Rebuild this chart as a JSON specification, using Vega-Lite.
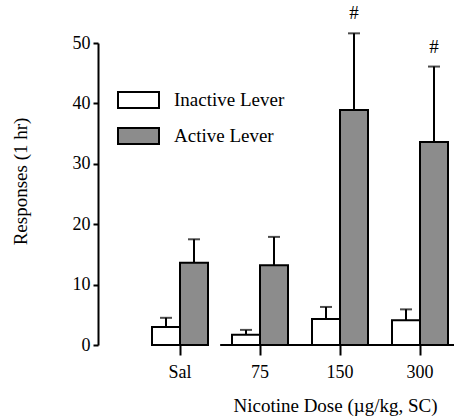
{
  "$schema": "https://vega.github.io/schema/vega-lite/v6.json",
  "autosize": "none",
  "width": 300,
  "height": 302,
  "padding": {"left": 150, "top": 43, "right": 6, "bottom": 73},
  "background": "white",
  "config": {
    "view": {"stroke": null},
    "font": "Liberation Serif",
    "axis": {"labelFont": "Liberation Serif", "titleFont": "Liberation Serif", "labelColor": "black", "titleColor": "black", "titleFontWeight": "normal", "domainColor": "black", "tickColor": "black"},
    "legend": {"labelFont": "Liberation Serif"}
  },
  "data": {
    "values": [
      {"dose": "Sal", "lever": "Inactive Lever", "mean": 3.0, "upper": 4.5, "sig": ""},
      {"dose": "Sal", "lever": "Active Lever", "mean": 13.6, "upper": 17.5, "sig": ""},
      {"dose": "75", "lever": "Inactive Lever", "mean": 1.7, "upper": 2.5, "sig": ""},
      {"dose": "75", "lever": "Active Lever", "mean": 13.2, "upper": 17.9, "sig": ""},
      {"dose": "150", "lever": "Inactive Lever", "mean": 4.3, "upper": 6.3, "sig": ""},
      {"dose": "150", "lever": "Active Lever", "mean": 38.9, "upper": 51.6, "sig": "#"},
      {"dose": "300", "lever": "Inactive Lever", "mean": 4.1, "upper": 5.9, "sig": ""},
      {"dose": "300", "lever": "Active Lever", "mean": 33.6, "upper": 46.1, "sig": "#"}
    ]
  },
  "encoding": {
    "x": {
      "field": "dose", "type": "nominal", "sort": ["Sal", "75", "150", "300"],
      "scale": {"paddingInner": 0.3, "paddingOuter": 0.025},
      "axis": {"title": "Nicotine Dose (µg/kg, SC)", "labelAngle": 0, "domain": false, "ticks": true, "tickSize": 10, "tickWidth": 2, "tickBand": "center", "labelFontSize": 18, "titleFontSize": 19, "labelPadding": 8, "titlePadding": 15, "titleX": 185}
    },
    "xOffset": {"field": "lever", "type": "nominal", "sort": ["Inactive Lever", "Active Lever"], "scale": {"paddingInner": 0, "paddingOuter": 0}},
    "y": {
      "field": "mean", "type": "quantitative",
      "scale": {"domain": [0, 50], "nice": false},
      "axis": {"title": "Responses (1 hr)", "values": [0, 10, 20, 30, 40, 50], "grid": false, "offset": 52, "domainWidth": 2, "tickWidth": 2, "tickSize": 5, "labelFontSize": 18, "titleFontSize": 19, "labelPadding": 3, "titlePadding": 42, "titleY": 138}
    }
  },
  "layer": [
    {
      "mark": {"type": "rule", "color": "black", "strokeWidth": 2},
      "encoding": {
        "x": {"datum": "75", "bandPosition": -0.2},
        "x2": {"datum": "300", "bandPosition": 1.1},
        "y": {"datum": 0},
        "xOffset": null
      }
    },
    {
      "mark": {"type": "rule", "color": "black", "strokeWidth": 2},
      "encoding": {"y": {"field": "mean", "type": "quantitative"}, "y2": {"field": "upper"}}
    },
    {
      "mark": {"type": "tick", "color": "black", "thickness": 2, "size": 12, "orient": "horizontal"},
      "encoding": {"y": {"field": "upper", "type": "quantitative"}}
    },
    {
      "mark": {"type": "bar", "stroke": "black", "strokeWidth": 2},
      "encoding": {
        "fill": {
          "field": "lever", "type": "nominal",
          "scale": {"domain": ["Inactive Lever", "Active Lever"], "range": ["white", "#8c8c8c"]},
          "legend": {"title": null, "orient": "none", "legendX": -33, "legendY": 39, "symbolType": "M-1,-0.39H1V0.39H-1Z", "symbolSize": 1681, "symbolStrokeColor": "black", "symbolStrokeWidth": 2, "labelFontSize": 19, "labelColor": "black", "labelOffset": 14, "rowPadding": 0, "clipHeight": 36}
        }
      }
    },
    {
      "mark": {"type": "text", "fontSize": 19, "dy": -20, "color": "black"},
      "encoding": {"y": {"field": "upper", "type": "quantitative"}, "text": {"field": "sig"}}
    }
  ]
}
